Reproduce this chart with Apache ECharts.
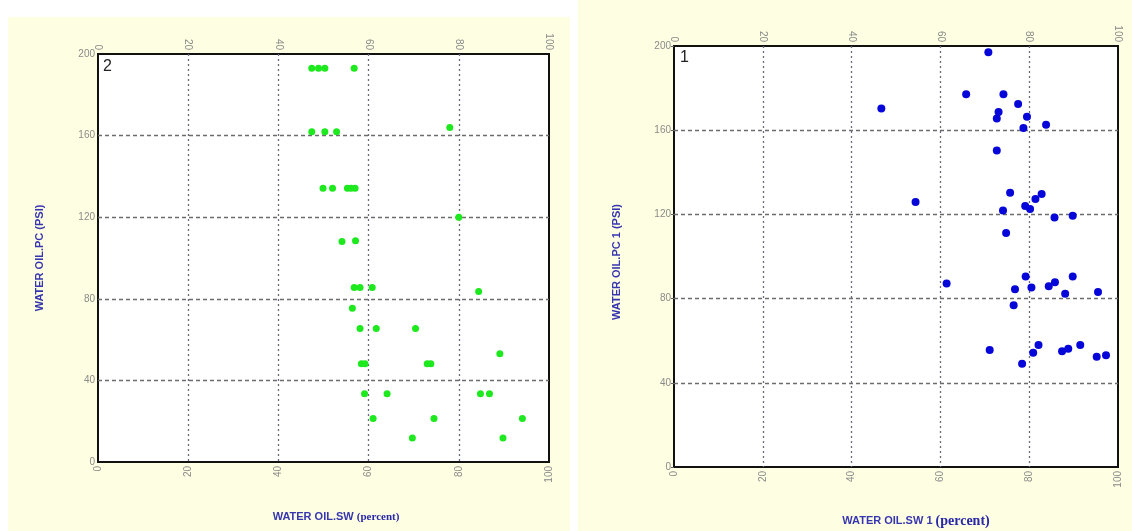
<!DOCTYPE html>
<html>
<head>
<meta charset="utf-8">
<script src="https://cdn.jsdelivr.net/npm/echarts@6/dist/echarts.min.js"></script>
<style>
html,body{margin:0;padding:0;background:#fff;}
#c{width:1132px;height:531px;}
</style>
</head>
<body>
<div id="c"></div>
<script>
// ---- data ----
const xTicks = [0, 20, 40, 60, 80, 100];
const yTicks = [0, 40, 80, 120, 160, 200];

// Panel 2 (green): WATER OIL.SW (percent) vs WATER OIL.PC (PSI)
const sw2 = [47.4, 48.9, 50.3, 56.8,
             47.4, 50.3, 52.9, 78.0,
             49.9, 52.0, 55.3, 56.1, 57.0,
             80.0,
             54.1, 57.1,
             56.8, 58.1, 60.8, 84.4,
             56.4,
             58.1, 61.7, 70.4,
             89.1,
             58.4, 59.2, 73.0, 73.8,
             59.1, 64.1, 84.8, 86.8,
             61.0, 74.5, 94.1,
             69.7, 89.8];
const pc2 = [193.0, 193.0, 193.0, 193.0,
             161.9, 161.9, 161.9, 164.0,
             134.2, 134.2, 134.2, 134.2, 134.2,
             120.0,
             108.1, 108.4,
             85.5, 85.5, 85.5, 83.6,
             75.4,
             65.4, 65.4, 65.4,
             53.1,
             48.2, 48.2, 48.2, 48.2,
             33.5, 33.5, 33.5, 33.5,
             21.3, 21.3, 21.3,
             11.8, 11.8];

// Panel 1 (blue): WATER OIL.SW 1 (percent) vs WATER OIL.PC 1 (PSI)
const sw1 = [70.8, 65.8, 74.2, 46.7, 77.5, 73.1, 72.7, 79.5, 78.7, 83.8,
             72.7, 75.7, 82.8, 54.4, 81.4, 79.1, 80.2, 74.1, 85.7, 89.8,
             74.8, 79.2, 89.8, 61.4, 85.8, 84.4, 76.8, 80.5, 88.1, 95.5,
             76.5, 71.1, 82.1, 80.9, 87.4, 88.8, 91.5, 78.4, 95.2, 97.3];
const pc1 = [197.0, 177.1, 177.1, 170.3, 172.4, 168.6, 165.6, 166.4, 161.1, 162.6,
             150.4, 130.3, 129.7, 125.9, 127.3, 124.0, 122.6, 121.8, 118.5, 119.3,
             111.2, 90.5, 90.5, 87.2, 87.8, 85.9, 84.5, 85.3, 82.3, 83.1,
             76.9, 55.6, 58.0, 54.3, 55.0, 56.2, 58.0, 49.1, 52.4, 53.1];

const xTitle2 = 'WATER OIL.SW ';
const yTitle2 = 'WATER OIL.PC (PSI)';
const xTitle1 = 'WATER OIL.SW 1 ';
const yTitle1 = 'WATER OIL.PC 1 (PSI)';
const unitText = '(percent)';
const panelTags = ['2', '1'];

// ---- chart ----
const chart = echarts.init(document.getElementById('c'), null, {renderer: 'canvas'});

const labelColor = '#8a8a8a';
const titleColor = '#3636b0';

function xAxisDef(gi, pos) {
  return {
    gridIndex: gi, type: 'value', position: pos, z: 3,
    min: xTicks[0], max: xTicks[xTicks.length - 1], interval: xTicks[1] - xTicks[0],
    axisLine: {show: false}, axisTick: {show: false},
    axisLabel: {rotate: 90, color: labelColor, fontSize: 10, fontFamily: 'Arial', margin: 4},
    splitLine: {show: pos === 'bottom', showMinLine: false, showMaxLine: false,
                lineStyle: {color: '#6a6a7c', type: [2, 3], width: 1.3}}
  };
}
function yAxisDef(gi, ticks) {
  return {
    gridIndex: gi, type: 'value', z: 3,
    min: yTicks[0], max: yTicks[yTicks.length - 1], interval: yTicks[1] - yTicks[0],
    axisLine: {show: false},
    axisTick: {show: ticks, length: 3, lineStyle: {color: '#666'}},
    axisLabel: {color: labelColor, fontSize: 10, fontFamily: 'Arial', margin: 3},
    splitLine: {show: true, showMinLine: false, showMaxLine: false,
                lineStyle: {color: '#6c6c6c', type: [4, 3], width: 1.3}}
  };
}
function zip(a, b) { return a.map((v, i) => [v, b[i]]); }

const option = {
  animation: false,
  backgroundColor: '#ffffff',
  grid: [
    {left: 98, top: 54, width: 451, height: 408, show: true, backgroundColor: '#ffffff', borderColor: '#111', borderWidth: 2, z: 0},
    {left: 674, top: 46, width: 444, height: 421, show: true, backgroundColor: '#ffffff', borderColor: '#111', borderWidth: 2, z: 0}
  ],
  xAxis: [xAxisDef(0, 'bottom'), xAxisDef(0, 'top'), xAxisDef(1, 'bottom'), xAxisDef(1, 'top')],
  yAxis: [yAxisDef(0, false), yAxisDef(1, true)],
  series: [
    {type: 'scatter', xAxisIndex: 0, yAxisIndex: 0, data: zip(sw2, pc2), symbol: 'circle', symbolSize: 7,
     itemStyle: {color: '#1ee81e', opacity: 1}, z: 5},
    {type: 'scatter', xAxisIndex: 2, yAxisIndex: 1, data: zip(sw1, pc1), symbol: 'circle', symbolSize: 8,
     itemStyle: {color: '#0606d8', opacity: 1}, z: 5}
  ],
  graphic: [
    {type: 'rect', z: -100, silent: true, shape: {x: 8, y: 17, width: 562, height: 514}, style: {fill: '#fefee2'}},
    {type: 'rect', z: -100, silent: true, shape: {x: 578, y: 0, width: 554, height: 531}, style: {fill: '#fefee2'}},
    {type: 'text', z: 10, left: 103, top: 59, style: {text: panelTags[0], fill: '#222', font: '16px Arial'}},
    {type: 'text', z: 10, left: 680, top: 50, style: {text: panelTags[1], fill: '#222', font: '16px Arial'}},
    {type: 'text', z: 10, x: 40, y: 258, rotation: Math.PI / 2,
     style: {text: yTitle2, fill: titleColor, font: 'bold 11px Arial', align: 'center', verticalAlign: 'middle'}},
    {type: 'text', z: 10, x: 617, y: 262, rotation: Math.PI / 2,
     style: {text: yTitle1, fill: titleColor, font: 'bold 11px Arial', align: 'center', verticalAlign: 'middle'}},
    {type: 'text', z: 10, x: 336, y: 517,
     style: {text: '{a|' + xTitle2 + '}{b|' + unitText + '}', align: 'center', verticalAlign: 'middle',
       rich: {a: {fill: titleColor, font: 'bold 11px Arial'}, b: {fill: '#2727aa', font: 'bold 11px "Liberation Serif", serif'}}}},
    {type: 'text', z: 10, x: 916, y: 521,
     style: {text: '{a|' + xTitle1 + '}{b|' + unitText + '}', align: 'center', verticalAlign: 'middle',
       rich: {a: {fill: titleColor, font: 'bold 11px Arial'}, b: {fill: '#2727aa', font: 'bold 14px "Liberation Serif", serif'}}}}
  ]
};
chart.setOption(option);
</script>
</body>
</html>
